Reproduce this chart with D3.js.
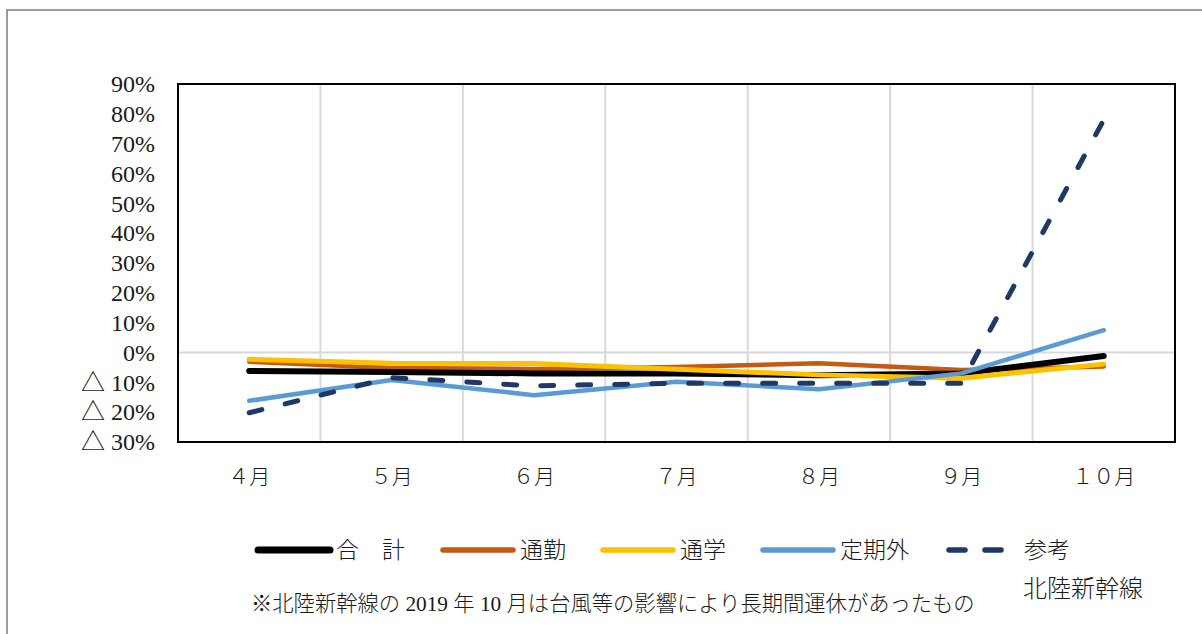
<!DOCTYPE html>
<html>
<head>
<meta charset="utf-8">
<script src="https://cdn.jsdelivr.net/npm/d3@7"></script>
<style>
  body { margin: 0; background: #fff; }
  svg text { fill: #1a1a1a; }
</style>
</head>
<body>
<div id="chart"></div>
<script>
var width = 1202;
var height = 634;
var margin = {top: 84, bottom: 192, left: 178, right: 27};

var months = ["４月", "５月", "６月", "７月", "８月", "９月", "１０月"];
var yTicks = [-30, -20, -10, 0, 10, 20, 30, 40, 50, 60, 70, 80, 90];

// 前年比（%）
var total = [-6.2, -6.5, -7.0, -7.0, -7.6, -7.0, -1.2];
var commute = [-3.1, -5.2, -5.5, -4.9, -3.6, -5.9, -4.7];
var school = [-2.3, -3.6, -3.7, -5.6, -7.5, -8.6, -3.9];
var nonPass = [-16.2, -9.2, -14.3, -9.8, -12.3, -7.0, 7.5];
var hokuriku = [-20.2, -8.4, -11.2, -10.3, -10.3, -10.3, 78];

var seriesNames = ["合　計", "通勤", "通学", "定期外", "参考"];
var seriesColours = ["#000000", "#c55a11", "#ffc000", "#5b9bd5", "#1f3864"];

var svg = d3.select("#chart")
  .append("svg")
    .attr("width", width)
    .attr("height", height);

// outer frame
svg.append("path")
  .attr("d", "M7,640 L7,10 L1210,10")
  .attr("fill", "none")
  .attr("stroke", "#7a7a7a")
  .attr("stroke-width", 1.5);

var g = svg.append("g")
  .attr("transform", "translate(" + margin.left + "," + margin.top + ")");

var w = width - margin.left - margin.right;
var h = height - margin.top - margin.bottom;

var x = d3.scaleBand().domain(months).range([0, w]).paddingInner(0).paddingOuter(0);
var y = d3.scaleLinear().domain([-30, 90]).range([h, 0]);

// vertical gridlines between categories
g.selectAll(".vgrid")
  .data(months.slice(1))
  .enter().append("line")
    .attr("class", "vgrid")
    .attr("x1", function(d){ return x(d); })
    .attr("x2", function(d){ return x(d); })
    .attr("y1", 0)
    .attr("y2", h)
    .attr("stroke", "#d9d9d9")
    .attr("stroke-width", 2);

// zero line
g.append("line")
  .attr("x1", 0).attr("x2", w)
  .attr("y1", y(0)).attr("y2", y(0))
  .attr("stroke", "#d9d9d9")
  .attr("stroke-width", 2);

// y labels
var yAxis = d3.axisLeft(y)
  .tickValues(yTicks)
  .tickSize(0)
  .tickPadding(23)
  .tickFormat(function(d){ return d < 0 ? "△ " + Math.abs(d) + "%" : d + "%"; });
g.append("g")
  .attr("class", "y_axis")
  .call(yAxis)
  .call(function(s){ s.select(".domain").remove(); })
  .selectAll("text")
    .attr("font-family", "'Liberation Serif', 'Noto Sans CJK JP', serif")
    .attr("font-size", 24)
    .attr("fill", "#1a1a1a");

// x labels
var xAxis = d3.axisBottom(x).tickSize(0).tickPadding(27);
g.append("g")
  .attr("class", "x_axis")
  .attr("transform", "translate(0," + h + ")")
  .call(xAxis)
  .call(function(s){ s.select(".domain").remove(); })
  .selectAll("text")
    .attr("font-family", "'Noto Sans CJK JP', sans-serif")
    .attr("font-size", 21)
    .attr("font-weight", 300)
    .attr("fill", "#1a1a1a");

var line = d3.line()
  .x(function(d, i){ return x(months[i]) + x.bandwidth() / 2; })
  .y(function(d){ return y(d); });

var allSeries = [total, commute, school, nonPass, hokuriku];
var widths = [6, 4.5, 5, 4.5, 5];

// draw order: 通勤 at back, then 合計, 通学, 定期外, 参考
var order = [1, 0, 2, 3, 4];
order.forEach(function(k){
  g.append("path")
    .datum(allSeries[k])
    .attr("d", line)
    .attr("fill", "none")
    .attr("stroke", seriesColours[k])
    .attr("stroke-width", widths[k])
    .attr("stroke-linecap", "round")
    .attr("stroke-linejoin", "round")
    .attr("stroke-dasharray", k === 4 ? "13,24" : null);
});

// plot border
g.append("rect")
  .attr("x", 0).attr("y", 0)
  .attr("width", w).attr("height", h)
  .attr("fill", "none")
  .attr("stroke", "#000")
  .attr("stroke-width", 2);

// legend
var legendItems = [
  {i: 0, x1: 258, x2: 330, tx: 336},
  {i: 1, x1: 443, x2: 513, tx: 520},
  {i: 2, x1: 603, x2: 673, tx: 680},
  {i: 3, x1: 763, x2: 833, tx: 840},
  {i: 4, x1: 949, x2: 1003, tx: 1024}
];
var legendY = 550;
var legend = svg.selectAll(".legend1")
  .data(legendItems)
  .enter().append("g")
  .attr("class", "legend1");

legend.append("line")
  .attr("x1", function(d){ return d.x1; })
  .attr("x2", function(d){ return d.x2; })
  .attr("y1", legendY).attr("y2", legendY)
  .attr("stroke", function(d){ return seriesColours[d.i]; })
  .attr("stroke-width", function(d){ return d.i === 0 ? 7 : 5.5; })
  .attr("stroke-linecap", "round")
  .attr("stroke-dasharray", function(d){ return d.i === 4 ? "16,20" : null; });

legend.append("text")
  .attr("x", function(d){ return d.tx; })
  .attr("y", legendY + 8)
  .attr("font-family", "'Noto Sans CJK JP', sans-serif")
  .attr("font-size", 23)
  .attr("font-weight", 300)
  .text(function(d){ return seriesNames[d.i]; });

svg.append("text")
  .attr("x", 1023)
  .attr("y", 597)
  .attr("font-family", "'Noto Sans CJK JP', sans-serif")
  .attr("font-size", 24)
  .attr("font-weight", 300)
  .text("北陸新幹線");

svg.append("text")
  .attr("x", 251)
  .attr("y", 611)
  .attr("font-family", "'Liberation Serif', 'Noto Sans CJK JP', serif")
  .attr("font-size", 21.3)
  .attr("font-weight", 300)
  .text("※北陸新幹線の 2019 年 10 月は台風等の影響により長期間運休があったもの");
</script>
</body>
</html>
